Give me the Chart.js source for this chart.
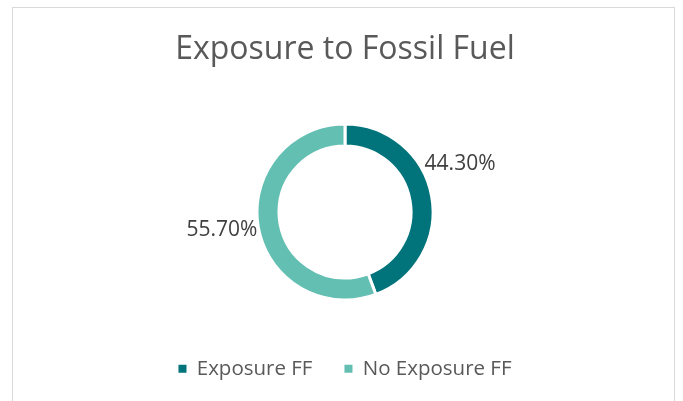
<!DOCTYPE html>
<html>
<head>
<meta charset="utf-8">
<script src="https://cdn.jsdelivr.net/npm/chart.js@4.4.0/dist/chart.umd.min.js"></script>
<style>
  html, body { margin: 0; padding: 0; background: #fff; }
  #wrap { position: relative; width: 683px; height: 401px; }
  #frame {
    position: absolute; left: 12px; top: 7px; width: 663px; height: 420px;
    border: 1px solid #d9d9d9; box-sizing: border-box;
  }
  canvas { position: absolute; left: 0; top: 0; }
</style>
</head>
<body>
<div id="wrap">
  <div id="frame"></div>
  <canvas id="fuelChart" width="683" height="401"></canvas>
</div>
<script>
const categories = ["Exposure FF", "No Exposure FF"];
const shares = [44.3, 55.7];
const sliceColors = ["#00737B", "#62BFB2"];

// draws the percent labels just outside each slice
const sliceLabels = {
  id: "sliceLabels",
  afterDatasetsDraw(chart, args, opts) {
    const ctx = chart.ctx;
    const meta = chart.getDatasetMeta(0);
    ctx.save();
    ctx.font = "21px 'Open Sans'";
    ctx.fillStyle = "#404040";
    ctx.textAlign = "center";
    ctx.textBaseline = "middle";
    meta.data.forEach((arc, i) => {
      const mid = (arc.startAngle + arc.endAngle) / 2;
      const r = arc.outerRadius + opts.distance;
      const shift = opts.shift[i] || { x: 0, y: 0 };
      const x = arc.x + Math.cos(mid) * r + shift.x;
      const y = arc.y + Math.sin(mid) * r + shift.y;
      ctx.fillText(shares[i].toFixed(2) + "%", x, y);
    });
    ctx.restore();
  }
};

new Chart(document.getElementById("fuelChart"), {
  type: "doughnut",
  data: {
    labels: categories,
    datasets: [{
      data: shares,
      backgroundColor: sliceColors,
      borderColor: "#ffffff",
      borderWidth: 3,
      hoverOffset: 0
    }]
  },
  options: {
    responsive: false,
    animation: false,
    cutout: "75%",
    layout: { padding: { left: 7, right: 0, top: 0, bottom: 12 } },
    plugins: {
      title: {
        display: true,
        text: "Exposure to Fossil Fuel",
        color: "#595959",
        font: { family: "'Open Sans'", size: 32, weight: "normal" },
        padding: { top: 31, bottom: 53 }
      },
      legend: {
        position: "bottom",
        title: {
          display: true,
          text: "",
          font: { size: 10 },
          padding: { top: 0, bottom: 13 }
        },
        labels: {
          color: "#595959",
          font: { family: "'Open Sans'", size: 20.5 },
          boxWidth: 8,
          boxHeight: 8,
          padding: 32,
          generateLabels(chart) {
            // same as default but without the white slice border on the swatch
            return Chart.overrides.doughnut.plugins.legend.labels
              .generateLabels(chart)
              .map(item => ({ ...item, lineWidth: 0 }));
          }
        }
      },
      tooltip: { enabled: false },
      sliceLabels: {
        distance: 37,
        shift: [{ x: -8, y: -26 }, { x: 0, y: -4 }]
      }
    }
  },
  plugins: [sliceLabels]
});
</script>
</body>
</html>
